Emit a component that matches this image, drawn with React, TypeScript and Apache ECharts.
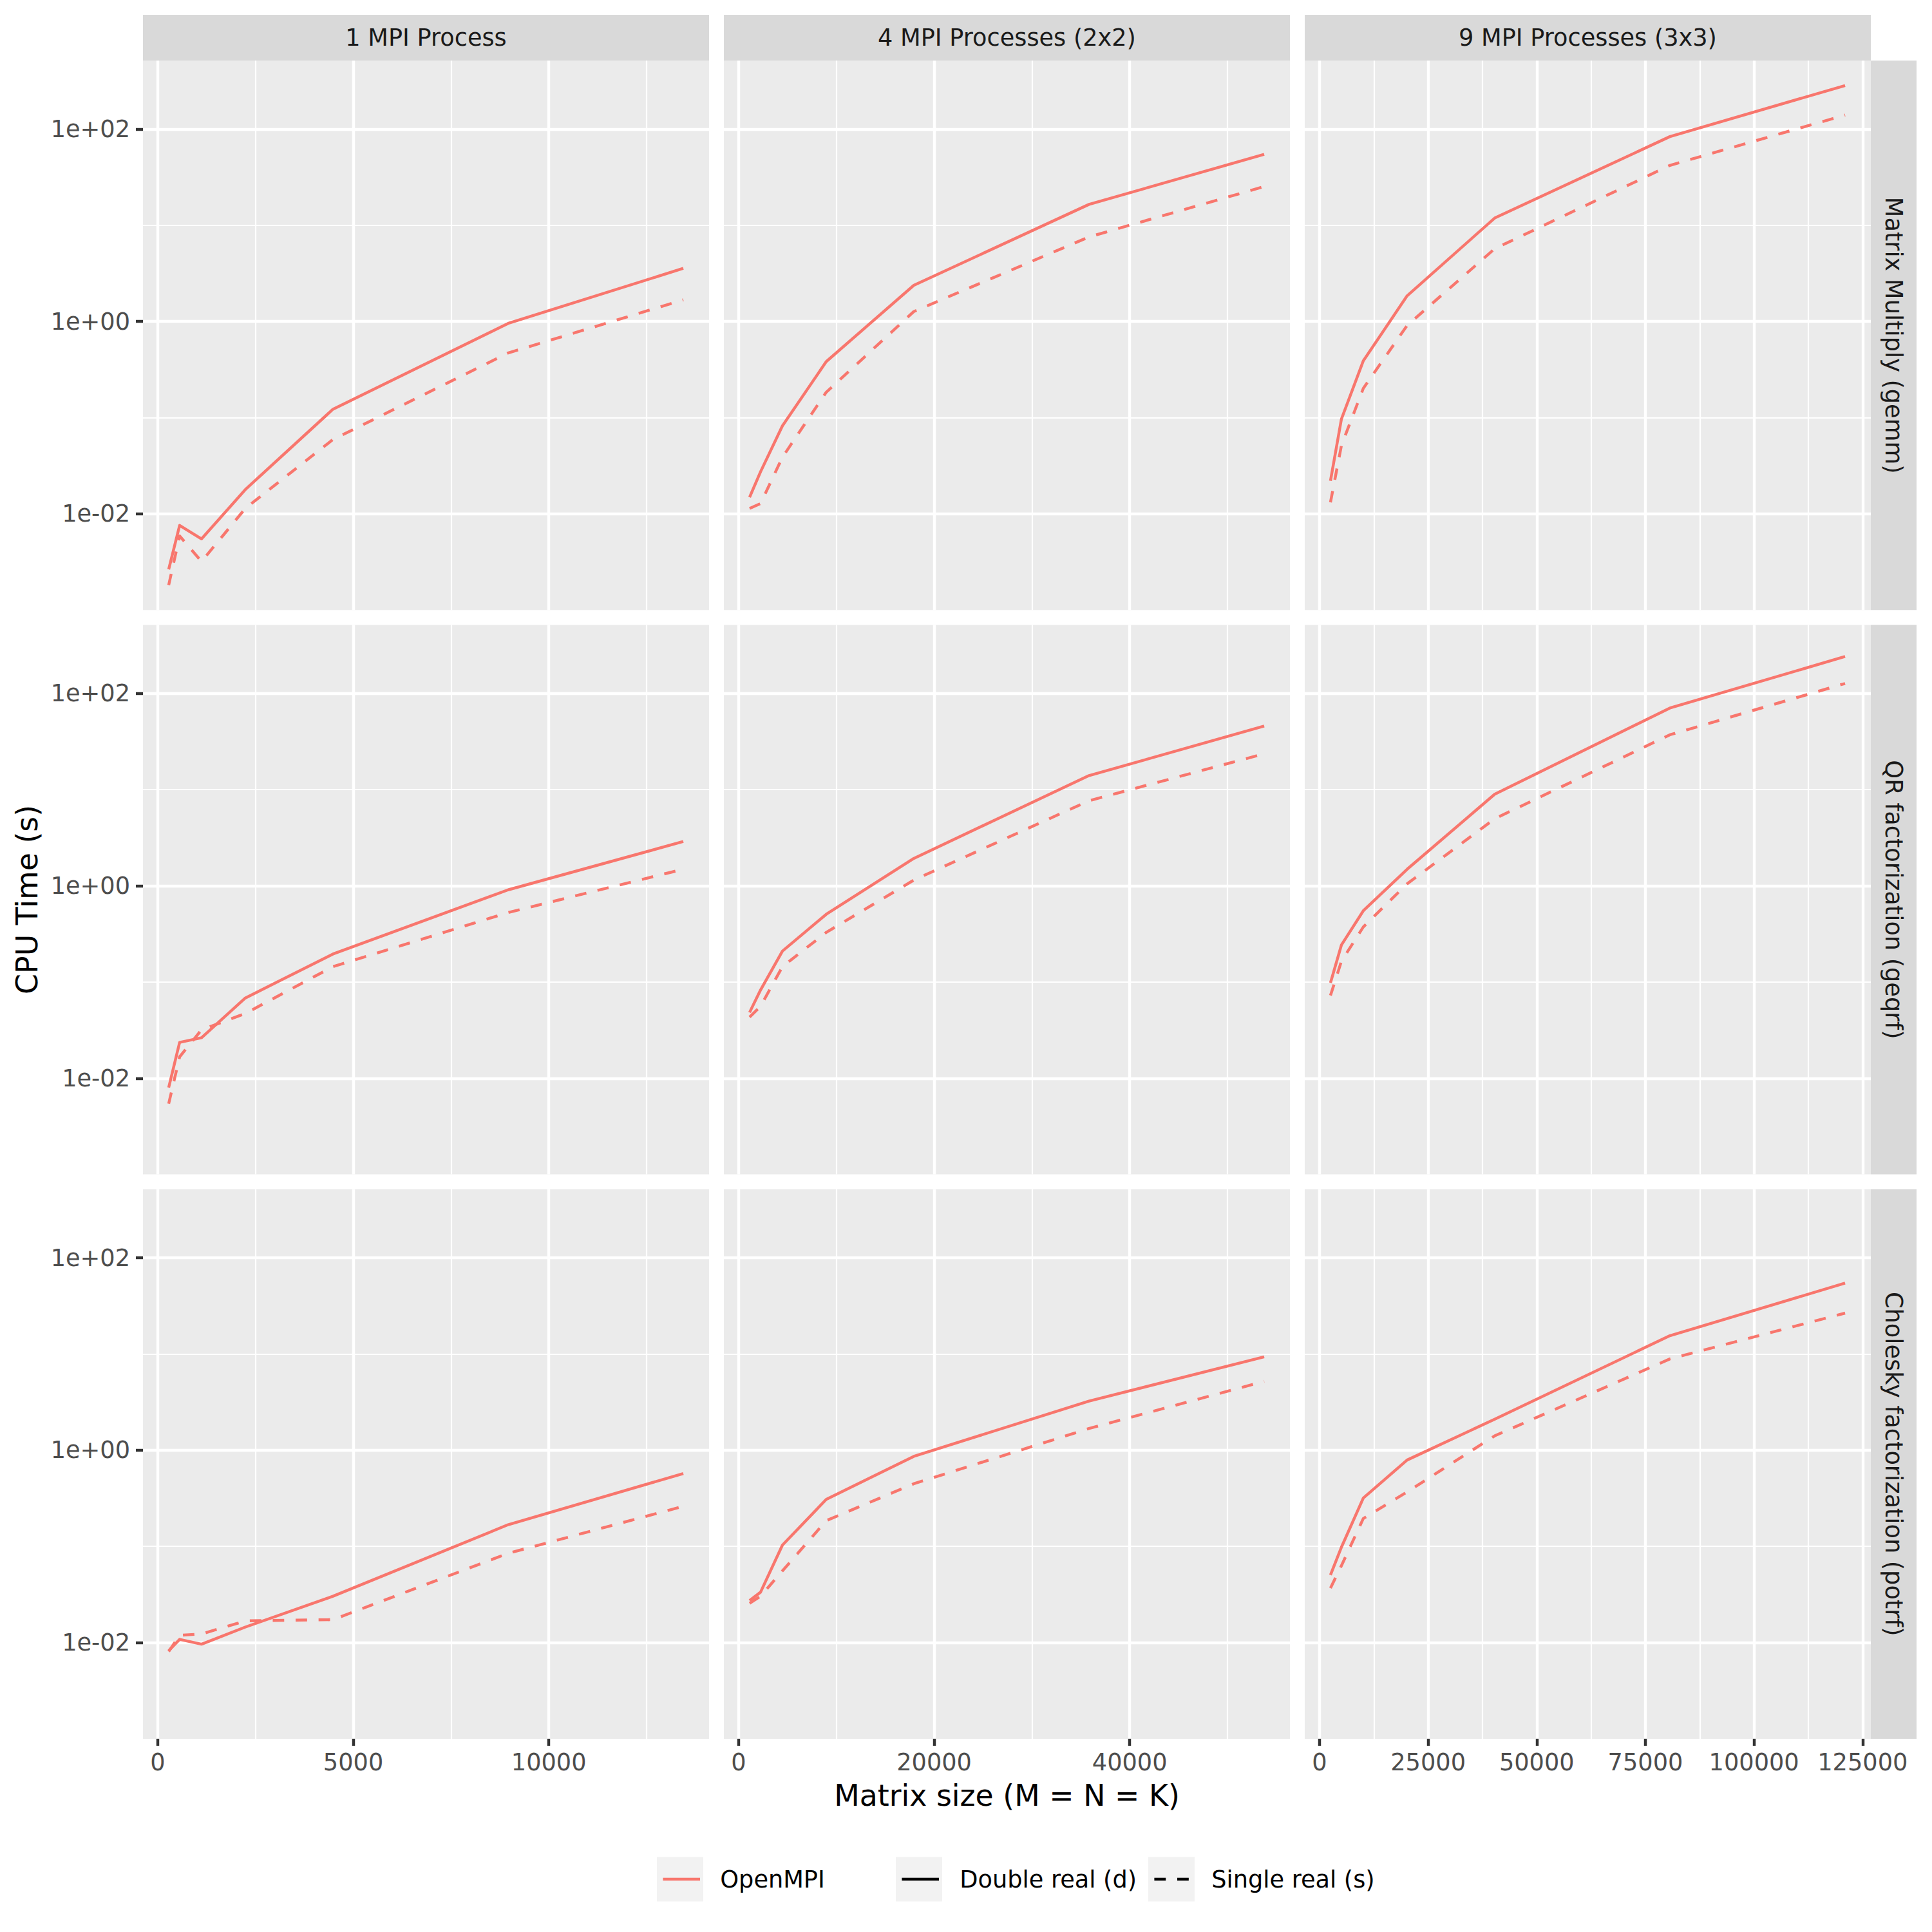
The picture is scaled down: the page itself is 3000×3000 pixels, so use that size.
import React, { useEffect, useRef } from "react";
import * as echarts from "echarts";

// ---------------- data ----------------
const processLabels = ["1 MPI Process", "4 MPI Processes (2x2)", "9 MPI Processes (3x3)"];
const routineLabels = ["Matrix Multiply (gemm)", "QR factorization (geqrf)", "Cholesky factorization (potrf)"];

const sizes1 = [280, 560, 1120, 2240, 4480, 8960, 13440];
const sizes4 = [1120, 2240, 4480, 8960, 17920, 35840, 53760];
const sizes9 = [2520, 5040, 10080, 20160, 40320, 80640, 120960];

const gemmDouble1 = [0.00265, 0.0076, 0.0055, 0.0179, 0.1225, 0.955, 3.57];
const gemmSingle1 = [0.00182, 0.0059, 0.0032, 0.0114, 0.0593, 0.471, 1.68];
const gemmDouble4 = [0.0149, 0.0274, 0.0824, 0.383, 2.38, 16.5, 54.7];
const gemmSingle4 = [0.0114, 0.0128, 0.0388, 0.184, 1.27, 7.57, 25.3];
const gemmDouble9 = [0.0221, 0.0968, 0.39, 1.85, 11.9, 83.6, 284];
const gemmSingle9 = [0.0132, 0.0515, 0.202, 0.91, 5.71, 42.0, 140];

const geqrfDouble1 = [0.008, 0.0236, 0.0264, 0.0683, 0.1955, 0.909, 2.89];
const geqrfSingle1 = [0.00544, 0.0167, 0.0319, 0.0471, 0.1446, 0.528, 1.49];
const geqrfDouble4 = [0.0483, 0.0826, 0.2096, 0.506, 1.93, 14.0, 45.8];
const geqrfSingle4 = [0.0432, 0.056, 0.1446, 0.328, 1.148, 7.67, 23.6];
const geqrfDouble9 = [0.098, 0.2427, 0.551, 1.487, 8.96, 70.5, 242];
const geqrfSingle9 = [0.0725, 0.1646, 0.374, 1.05, 4.98, 37.2, 127];

const potrfDouble1 = [0.00822, 0.0108, 0.00962, 0.0145, 0.0303, 0.168, 0.572];
const potrfSingle1 = [0.00806, 0.0119, 0.0123, 0.0168, 0.0173, 0.0847, 0.261];
const potrfDouble4 = [0.0274, 0.0334, 0.103, 0.308, 0.863, 3.24, 9.34];
const potrfSingle4 = [0.0256, 0.0303, 0.0556, 0.185, 0.448, 1.68, 5.19];
const potrfDouble9 = [0.0504, 0.098, 0.318, 0.79, 2.1, 15.5, 54.5];
const potrfSingle9 = [0.0368, 0.063, 0.195, 0.368, 1.41, 8.89, 26.6];

const xMajorTicks1 = [0, 5000, 10000];
const xMajorTicks4 = [0, 20000, 40000];
const xMajorTicks9 = [0, 25000, 50000, 75000, 100000, 125000];
const xMinorTicks1 = [2500, 7500, 12500];
const xMinorTicks4 = [10000, 30000, 50000];
const xMinorTicks9 = [12500, 37500, 62500, 87500, 112500];
const yMajorTicks = [0.01, 1, 100];
const yMinorTicks = [0.1, 10];

const legendNames = ["OpenMPI", "Double real (d)", "Single real (s)"];

// ---------------- styling / layout ----------------
const FONT = "DejaVu Sans";
const LINE_COLOR = "#F8766D";
const LW = 4.45;
const DASH = [17.8, 17.8];
const PANEL_X0 = 222;
const PANEL_Y0 = 94;
const PANEL_W = 879;
const PANEL_H = 853.3;
const PANEL_GAP = 23;
const STRIP = 71;
const TICK_FONT = 36.7;
const TITLE_FONT = 45.8;
const LEGEND_CENTER_Y = 2918;
const LEGEND_KEY_LEFT = [1020, 1391, 1783];
const LEGEND_KEY_SIZE = 72;
const LEGEND_KEY_H = 69;

function expand(lo: number, hi: number): [number, number] {
  const d = hi - lo;
  return [lo - 0.05 * d, hi + 0.05 * d];
}

function sciLabel(v: number): string {
  const e = Math.round(Math.log10(v));
  return "1e" + (e < 0 ? "-" : "+") + String(Math.abs(e)).padStart(2, "0");
}

function buildOption() {
  const sizes = [sizes1, sizes4, sizes9];
  const xMajor = [xMajorTicks1, xMajorTicks4, xMajorTicks9];
  const xMinor = [xMinorTicks1, xMinorTicks4, xMinorTicks9];
  const doubles = [
    [gemmDouble1, gemmDouble4, gemmDouble9],
    [geqrfDouble1, geqrfDouble4, geqrfDouble9],
    [potrfDouble1, potrfDouble4, potrfDouble9],
  ];
  const singles = [
    [gemmSingle1, gemmSingle4, gemmSingle9],
    [geqrfSingle1, geqrfSingle4, geqrfSingle9],
    [potrfSingle1, potrfSingle4, potrfSingle9],
  ];
  const allLogs: number[] = [];
  [doubles, singles].forEach((set) =>
    set.forEach((row) => row.forEach((arr) => arr.forEach((v) => allLogs.push(Math.log10(v)))))
  );
  const [yLo, yHi] = expand(Math.min(...allLogs), Math.max(...allLogs));
  const yMin = Math.pow(10, yLo);
  const yMax = Math.pow(10, yHi);

  const grid: any[] = [];
  const xAxis: any[] = [];
  const yAxis: any[] = [];
  const series: any[] = [];
  const graphic: any[] = [];

  const tickLabelStyle = {
    color: "#4D4D4D",
    fontFamily: FONT,
    fontSize: TICK_FONT,
    lineHeight: TICK_FONT,
  };
  const tickLine = { color: "#333333", width: LW };

  for (let r = 0; r < 3; r++) {
    for (let c = 0; c < 3; c++) {
      const gi = r * 3 + c;
      const left = PANEL_X0 + c * (PANEL_W + PANEL_GAP);
      const top = PANEL_Y0 + r * (PANEL_H + PANEL_GAP);
      grid.push({
        left,
        top,
        width: PANEL_W,
        height: PANEL_H,
        show: true,
        backgroundColor: "#EBEBEB",
        borderWidth: 0,
        outerBoundsMode: "none",
        containLabel: false,
      });
      const [xMin, xMax] = expand(Math.min(...sizes[c]), Math.max(...sizes[c]));
      const isBottom = r === 2;
      const isLeft = c === 0;

      const xMajorAxis: any = {
        type: "value",
        gridIndex: gi,
        min: xMin,
        max: xMax,
        position: "bottom",
        axisLine: { show: false, onZero: false },
        axisTick: { show: isBottom, length: 11, lineStyle: tickLine, customValues: xMajor[c] },
        axisLabel: {
          show: isBottom,
          customValues: xMajor[c],
          formatter: (v: number) => String(v),
          margin: 18,
          ...tickLabelStyle,
        },
        splitLine: { show: true, lineStyle: { color: "#FFFFFF", width: LW } },
      };
      if (gi === 7) {
        xMajorAxis.name = "Matrix size (M = N = K)";
        xMajorAxis.nameLocation = "middle";
        xMajorAxis.nameGap = 65;
        xMajorAxis.nameTextStyle = {
          color: "#000000",
          fontFamily: FONT,
          fontSize: TITLE_FONT,
          lineHeight: TITLE_FONT,
        };
      }
      xAxis.push(xMajorAxis);
      xAxis.push({
        type: "value",
        gridIndex: gi,
        min: xMin,
        max: xMax,
        position: "top",
        axisLine: { show: false, onZero: false },
        axisTick: { show: false, customValues: xMinor[c] },
        axisLabel: { show: false, customValues: xMinor[c] },
        splitLine: { show: true, lineStyle: { color: "#FFFFFF", width: LW / 2 } },
      });

      const yMajorAxis: any = {
        type: "log",
        logBase: 10,
        gridIndex: gi,
        min: yMin,
        max: yMax,
        position: "left",
        axisLine: { show: false, onZero: false },
        axisTick: { show: isLeft, length: 11, lineStyle: tickLine, customValues: yMajorTicks },
        axisLabel: {
          show: isLeft,
          customValues: yMajorTicks,
          formatter: (v: number) => sciLabel(v),
          margin: 20,
          ...tickLabelStyle,
        },
        splitLine: { show: true, lineStyle: { color: "#FFFFFF", width: LW } },
      };
      if (gi === 3) {
        yMajorAxis.name = "CPU Time (s)";
        yMajorAxis.nameLocation = "middle";
        yMajorAxis.nameGap = 157;
        yMajorAxis.nameTextStyle = {
          color: "#000000",
          fontFamily: FONT,
          fontSize: TITLE_FONT,
          lineHeight: TITLE_FONT,
        };
      }
      yAxis.push(yMajorAxis);
      yAxis.push({
        type: "log",
        logBase: 10,
        gridIndex: gi,
        min: yMin,
        max: yMax,
        position: "right",
        axisLine: { show: false, onZero: false },
        axisTick: { show: false, customValues: yMinorTicks },
        axisLabel: { show: false, customValues: yMinorTicks },
        splitLine: { show: true, lineStyle: { color: "#FFFFFF", width: LW / 2 } },
      });

      const dData = sizes[c].map((s, i) => [s, doubles[r][c][i]]);
      const sData = sizes[c].map((s, i) => [s, singles[r][c][i]]);
      series.push({
        type: "line",
        name: routineLabels[r] + " / " + processLabels[c] + " / double",
        xAxisIndex: 2 * gi,
        yAxisIndex: 2 * gi,
        data: dData,
        symbol: "none",
        silent: true,
        z: 3,
        lineStyle: { color: LINE_COLOR, width: LW, type: "solid", join: "round", cap: "butt" },
        itemStyle: { color: LINE_COLOR },
      });
      series.push({
        type: "line",
        name: routineLabels[r] + " / " + processLabels[c] + " / single",
        xAxisIndex: 2 * gi,
        yAxisIndex: 2 * gi,
        data: sData,
        symbol: "none",
        silent: true,
        z: 3,
        lineStyle: { color: LINE_COLOR, width: LW, type: DASH, join: "round", cap: "butt" },
        itemStyle: { color: LINE_COLOR },
      });
    }
  }

  // strips (facet labels)
  for (let c = 0; c < 3; c++) {
    const left = PANEL_X0 + c * (PANEL_W + PANEL_GAP);
    graphic.push({
      type: "rect",
      silent: true,
      shape: { x: left, y: PANEL_Y0 - STRIP, width: PANEL_W, height: STRIP },
      style: { fill: "#D9D9D9" },
    });
    graphic.push({
      type: "text",
      silent: true,
      x: left + PANEL_W / 2,
      y: PANEL_Y0 - STRIP / 2,
      style: {
        text: processLabels[c],
        fill: "#1A1A1A",
        fontFamily: FONT,
        fontSize: TICK_FONT,
        align: "center",
        verticalAlign: "middle",
      },
    });
  }
  const stripX = PANEL_X0 + 3 * PANEL_W + 2 * PANEL_GAP;
  for (let r = 0; r < 3; r++) {
    const top = PANEL_Y0 + r * (PANEL_H + PANEL_GAP);
    graphic.push({
      type: "rect",
      silent: true,
      shape: { x: stripX, y: top, width: STRIP, height: PANEL_H },
      style: { fill: "#D9D9D9" },
    });
    graphic.push({
      type: "text",
      silent: true,
      x: stripX + STRIP / 2,
      y: top + PANEL_H / 2,
      rotation: -Math.PI / 2,
      style: {
        text: routineLabels[r],
        fill: "#1A1A1A",
        fontFamily: FONT,
        fontSize: TICK_FONT,
        align: "center",
        verticalAlign: "middle",
      },
    });
  }

  // legend key backgrounds
  LEGEND_KEY_LEFT.forEach((x) => {
    graphic.push({
      type: "rect",
      silent: true,
      z: 0,
      shape: { x, y: LEGEND_CENTER_Y - LEGEND_KEY_H / 2, width: LEGEND_KEY_SIZE, height: LEGEND_KEY_H },
      style: { fill: "#F2F2F2" },
    });
  });

  // dummy series for the legends
  const legendStyles = [
    { color: LINE_COLOR, type: "solid" as any },
    { color: "#000000", type: "solid" as any },
    { color: "#000000", type: DASH as any },
  ];
  legendNames.forEach((name, i) => {
    series.push({
      type: "line",
      name,
      xAxisIndex: 0,
      yAxisIndex: 0,
      data: [],
      symbol: "none",
      lineStyle: { color: legendStyles[i].color, width: LW, type: legendStyles[i].type },
      itemStyle: { color: legendStyles[i].color },
    });
  });

  const lineW = LEGEND_KEY_SIZE * 0.8;
  const legendTextLeft = [1116, 1488, 1879];
  const legend = legendNames.map((name, i) => {
    const iconLeft = LEGEND_KEY_LEFT[i] + LEGEND_KEY_SIZE * 0.1;
    return {
      data: [name],
      left: iconLeft,
      top: LEGEND_CENTER_Y - 22,
      orient: "horizontal",
      padding: 0,
      itemWidth: lineW,
      itemHeight: 44,
      selectedMode: false,
      z: 5,
      itemStyle: { opacity: 0 },
      lineStyle: { width: LW },
      textStyle: {
        color: "#000000",
        fontFamily: FONT,
        fontSize: TICK_FONT,
        lineHeight: 44,
        padding: [0, 0, 0, legendTextLeft[i] - (iconLeft + lineW + 5)],
      },
    };
  });

  return {
    animation: false,
    backgroundColor: "#FFFFFF",
    textStyle: { fontFamily: FONT },
    grid,
    xAxis,
    yAxis,
    series,
    legend,
    graphic,
  };
}

export default function App() {
  const ref = useRef<HTMLDivElement>(null);
  useEffect(() => {
    if (!ref.current) return;
    const chart = echarts.init(ref.current, null, { renderer: "svg", width: 3000, height: 3000 });
    chart.setOption(buildOption() as any);
    return () => {
      chart.dispose();
    };
  }, []);
  return (
    <div
      ref={ref}
      style={{ position: "absolute", left: 0, top: 0, width: 3000, height: 3000, background: "#FFFFFF" }}
    />
  );
}
